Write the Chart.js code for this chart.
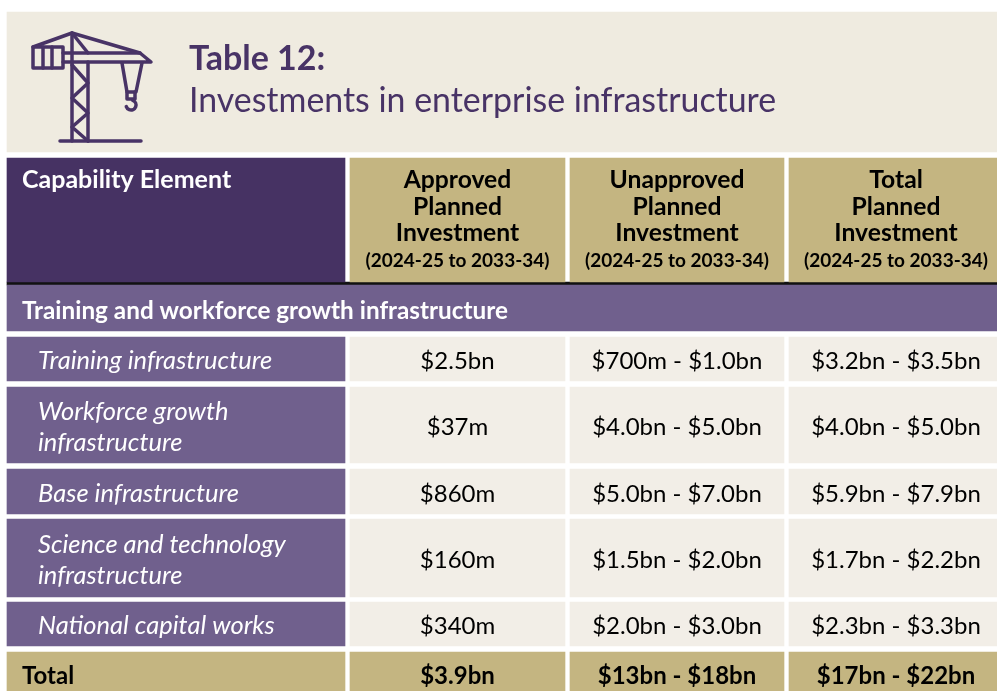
<!DOCTYPE html>
<html>
<head>
<meta charset="utf-8">
<title>Table 12</title>
<script src="https://cdn.jsdelivr.net/npm/chart.js@4/dist/chart.umd.min.js"></script>
<style>
  html, body { margin: 0; padding: 0; background: #fff; }
  #tableChart { display: block; }
</style>
</head>
<body>
<canvas id="tableChart" width="997" height="691"></canvas>
<script>
// table content
var titleBold = "Table 12:";
var titleLight = "Investments in enterprise infrastructure";
var firstHeader = "Capability Element";
var columnHeaders = [
  ["Approved", "Planned", "Investment"],
  ["Unapproved", "Planned", "Investment"],
  ["Total", "Planned", "Investment"],
];
var headerPeriod = "(2024-25 to 2033-34)";
var sectionLabel = "Training and workforce growth infrastructure";
var rowLabels = [
  ["Training infrastructure"],
  ["Workforce growth", "infrastructure"],
  ["Base infrastructure"],
  ["Science and technology", "infrastructure"],
  ["National capital works"],
];
var approved = ["$2.5bn", "$37m", "$860m", "$160m", "$340m"];
var unapproved = ["$700m - $1.0bn", "$4.0bn - $5.0bn", "$5.0bn - $7.0bn", "$1.5bn - $2.0bn", "$2.0bn - $3.0bn"];
var total = ["$3.2bn - $3.5bn", "$4.0bn - $5.0bn", "$5.9bn - $7.9bn", "$1.7bn - $2.2bn", "$2.3bn - $3.3bn"];
var totalLabel = "Total";
var totalRow = ["$3.9bn", "$13bn - $18bn", "$17bn - $22bn"];

// grid layout, in canvas pixels (the scales run 1:1)
// last column runs off the right edge of the page
var columnEdges = [[7, 345], [350, 565], [570, 784], [789, 1003]];
var fullWidth = [7, 997];
var titleBand = [12, 152];
var headerBand = [158, 282];
var ruleBand = [282, 285];
var sectionBand = [285, 331];
var bodyBands = [[337, 381], [387, 463], [469, 514], [519, 597], [602, 646]];
var totalBand = [652, 691];

var fontName = "Lato, Carlito, sans-serif";
var darkPurple = "#463263";
var midPurple = "#70608d";
var gold = "#c4b581";
var cellBg = "#f2eee7";
var titleBg = "#efebe0";
var titleText = "#483366";

// one floating bar per cell; a column is one dataset
function bandBars(edges, bands, color) {
  return {
    type: "bar",
    data: bands.map(function (b) { return { x: (edges[0] + edges[1]) / 2, y: b }; }),
    backgroundColor: color,
    barThickness: edges[1] - edges[0],
    grouped: false,
    borderWidth: 0,
  };
}

var allBands = [headerBand].concat(bodyBands, [totalBand]);
function colColors(headColor, bodyColor) {
  return [headColor].concat(bodyBands.map(function () { return bodyColor; }), [gold]);
}

var datasets = [
  bandBars(fullWidth, [titleBand], titleBg),
  bandBars(columnEdges[0], allBands, colColors(darkPurple, midPurple)),
  bandBars(columnEdges[1], allBands, colColors(gold, cellBg)),
  bandBars(columnEdges[2], allBands, colColors(gold, cellBg)),
  bandBars(columnEdges[3], allBands, colColors(gold, cellBg)),
  bandBars(fullWidth, [sectionBand], midPurple),
  bandBars(fullWidth, [ruleBand], "#111111"),
];

function put(ctx, text, x, y, font, color, align) {
  ctx.font = font + " " + fontName;
  ctx.fillStyle = color;
  ctx.textAlign = align || "center";
  ctx.textBaseline = "alphabetic";
  ctx.fillText(text, x, y);
}

// crane icon in the title band
function drawCrane(ctx) {
  ctx.save();
  ctx.strokeStyle = titleText;
  ctx.lineWidth = 3.5;
  ctx.lineCap = "round";
  ctx.lineJoin = "round";
  var paths = [
    [[33, 47], [72, 33], [140, 53], [151, 62], [63, 62]],
    [[63, 53], [140, 53]],
    [[33, 47], [63, 47], [63, 68], [33, 68], [33, 47]],
    [[43, 47], [43, 68]],
    [[52, 47], [52, 68]],
    [[72, 33], [72, 141]],
    [[88, 62], [88, 141]],
    [[72, 33], [88, 53]],
    [[72, 65], [88, 83], [72, 98], [88, 113], [72, 127], [88, 141]],
    [[60, 141], [141, 141]],
    [[122, 63], [127, 92], [136, 92], [142, 63]],
    [[127, 92], [127, 99], [135, 99], [135, 92]],
  ];
  paths.forEach(function (p) {
    ctx.beginPath();
    p.forEach(function (pt, i) {
      if (i === 0) ctx.moveTo(pt[0], pt[1]);
      else ctx.lineTo(pt[0], pt[1]);
    });
    ctx.stroke();
  });
  ctx.beginPath();
  ctx.arc(131, 105, 5, -1.2, 2.8);
  ctx.stroke();
  ctx.restore();
}

var tableText = {
  id: "tableText",
  afterDatasetsDraw: function (chart) {
    var ctx = chart.ctx;
    var cols = [1, 2, 3, 4].map(function (i) { return chart.getDatasetMeta(i).data; });
    var sect = chart.getDatasetMeta(5).data[0];
    var band = chart.getDatasetMeta(0).data[0];
    ctx.save();
    drawCrane(ctx);

    // title
    var bandTop = Math.min(band.y, band.base);
    put(ctx, titleBold, 189, bandTop + 58, "bold 34px", titleText, "left");
    put(ctx, titleLight, 189, bandTop + 100, "33.9px", titleText, "left");

    // header row
    var top = Math.min(cols[0][0].y, cols[0][0].base);
    put(ctx, firstHeader, 22, top + 30, "bold 25px", "#fff", "left");
    columnHeaders.forEach(function (lines, c) {
      var x = cols[c + 1][0].x;
      lines.forEach(function (line, i) {
        put(ctx, line, x, top + 30 + i * 26.5, "bold 24.7px", "#000");
      });
      put(ctx, headerPeriod, x, top + 109, "bold 19px", "#000");
    });

    // section heading
    put(ctx, sectionLabel, 22, (sect.y + sect.base) / 2 + 11, "bold 24.3px", "#fff", "left");

    // body rows
    rowLabels.forEach(function (lines, r) {
      var bar = cols[0][r + 1];
      var mid = (bar.y + bar.base) / 2;
      var first = mid + 10 - (lines.length - 1) * 15.5;
      lines.forEach(function (line, i) {
        put(ctx, line, 38, first + i * 31.5, "italic 25.5px", "#fff", "left");
      });
      [approved, unapproved, total].forEach(function (col, c) {
        var b = cols[c + 1][r + 1];
        put(ctx, col[r], b.x, mid + 10, "24px", "#000");
      });
    });

    // total row
    var last = rowLabels.length + 1;
    var totalY = Math.min(cols[0][last].y, cols[0][last].base);
    put(ctx, totalLabel, 22, totalY + 32, "bold 24px", "#000", "left");
    totalRow.forEach(function (t, c) {
      put(ctx, t, cols[c + 1][last].x, totalY + 32, "bold 24px", "#000");
    });
    ctx.restore();
  },
};

var chart = new Chart(document.getElementById("tableChart").getContext("2d"), {
  type: "bar",
  data: { datasets: datasets },
  plugins: [tableText],
  options: {
    responsive: false,
    animation: false,
    layout: { padding: 0 },
    plugins: { legend: { display: false }, tooltip: { enabled: false } },
    scales: {
      x: { type: "linear", min: 0, max: 997, offset: false, display: false },
      y: { type: "linear", min: 0, max: 691, reverse: true, display: false },
    },
  },
});
</script>
</body>
</html>
